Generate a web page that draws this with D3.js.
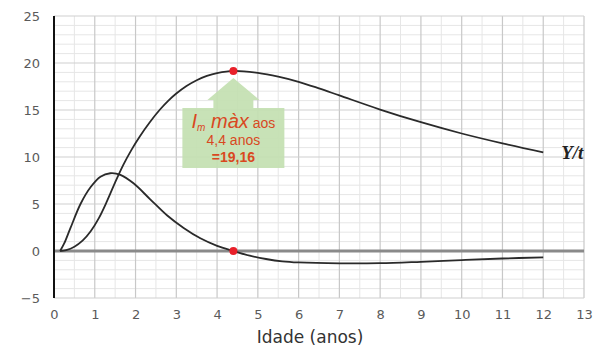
<!DOCTYPE html>
<html>
<head>
<meta charset="utf-8">
<script src="https://cdn.jsdelivr.net/npm/d3@7"></script>
<style>
  html, body { margin: 0; padding: 0; background: #fff; }
  svg { display: block; }
</style>
</head>
<body>
<svg id="chart" width="598" height="349"></svg>
<script>
// Mean annual increment (Y/t) by age
const ageYt = [0.15, 0.3, 0.5, 0.7, 0.9, 1.1, 1.3, 1.5, 1.7, 1.9, 2.1, 2.35, 2.6, 2.8, 3.0, 3.25, 3.5, 3.75, 4.0, 4.4, 5.0, 5.5, 6, 6.5, 7, 8, 9, 10, 11, 12];
const valYt = [0, 0.1, 0.46, 1.1, 2.1, 3.5, 5.3, 7.3, 9.16, 10.76, 12.16, 13.7, 15.05, 15.97, 16.75, 17.55, 18.17, 18.62, 18.92, 19.16, 18.95, 18.55, 18.0, 17.3, 16.55, 15.05, 13.7, 12.5, 11.45, 10.5];

// Rate of change of Y/t by age
const ageRate = [0.15, 0.25, 0.4, 0.65, 0.9, 1.14, 1.38, 1.63, 1.95, 2.36, 2.77, 3.18, 3.59, 4.0, 4.4, 4.8, 5.2, 5.6, 6, 7, 8, 9, 10, 11, 12];
const valRate = [0, 0.8, 2.4, 5.0, 6.8, 7.9, 8.27, 8.1, 7.2, 5.5, 3.8, 2.45, 1.35, 0.55, 0, -0.5, -0.85, -1.1, -1.22, -1.32, -1.3, -1.15, -0.97, -0.8, -0.67];

// Highlighted maximum
const peakAge = 4.4;
const peakValue = 19.16;

const xTicks = [0, 1, 2, 3, 4, 5, 6, 7, 8, 9, 10, 11, 12, 13];
const yTicks = [-5, 0, 5, 10, 15, 20, 25];

const svg = d3.select("#chart");
const x = d3.scaleLinear().domain([0, 13]).range([54, 584]);
const y = d3.scaleLinear().domain([-5, 25]).range([298, 16]);

// minor grid
const minorX = d3.range(0.5, 13, 1);
const minorY = d3.range(-5, 26, 1).filter(v => v % 5 !== 0);
svg.append("g").selectAll("line").data(minorX).join("line")
  .attr("x1", d => x(d)).attr("x2", d => x(d))
  .attr("y1", y(25)).attr("y2", y(-5))
  .attr("stroke", "#e6e6e6").attr("stroke-width", 1);
svg.append("g").selectAll("line").data(minorY).join("line")
  .attr("y1", d => y(d)).attr("y2", d => y(d))
  .attr("x1", x(0)).attr("x2", x(13))
  .attr("stroke", "#e6e6e6").attr("stroke-width", 1);

// major grid
svg.append("g").selectAll("line").data(xTicks.slice(1)).join("line")
  .attr("x1", d => x(d)).attr("x2", d => x(d))
  .attr("y1", y(25)).attr("y2", y(-5))
  .attr("stroke", "#c8c8c8").attr("stroke-width", 1.2);
svg.append("g").selectAll("line").data(yTicks.filter(v => v !== 0)).join("line")
  .attr("y1", d => y(d)).attr("y2", d => y(d))
  .attr("x1", x(0)).attr("x2", x(13))
  .attr("stroke", "#d0d0d0").attr("stroke-width", 1.2);

// zero line
svg.append("line")
  .attr("x1", x(0)).attr("x2", x(13))
  .attr("y1", y(0)).attr("y2", y(0))
  .attr("stroke", "#8a8a8a").attr("stroke-width", 3);

// y axis line
svg.append("line")
  .attr("x1", x(0)).attr("x2", x(0))
  .attr("y1", y(25)).attr("y2", y(-5))
  .attr("stroke", "#111").attr("stroke-width", 2);

// tick labels via d3 axes (domain and tick lines hidden)
const xAxis = svg.append("g")
  .attr("transform", `translate(0,${y(-5) + 8})`)
  .call(d3.axisBottom(x).tickValues(xTicks).tickSize(0).tickPadding(4).tickFormat(d3.format("d")));
const yAxis = svg.append("g")
  .attr("transform", `translate(${x(0) - 14},0)`)
  .call(d3.axisLeft(y).tickValues(yTicks).tickSize(0).tickPadding(0).tickFormat(d3.format("d")));
[xAxis, yAxis].forEach(g => {
  g.select(".domain").remove();
  g.selectAll("text")
    .attr("font-family", "DejaVu Sans, sans-serif")
    .attr("font-size", 13)
    .attr("fill", "#5a5a5a");
});

// axis title
svg.append("text")
  .attr("x", 310).attr("y", 343)
  .attr("text-anchor", "middle")
  .attr("font-family", "DejaVu Sans, sans-serif")
  .attr("font-size", 17)
  .attr("fill", "#333")
  .text("Idade (anos)");

// curves
const line = d3.line().x(d => x(d[0])).y(d => y(d[1])).curve(d3.curveCatmullRom.alpha(0.5));
svg.append("path")
  .datum(ageYt.map((a, i) => [a, valYt[i]]))
  .attr("d", line)
  .attr("fill", "none").attr("stroke", "#2a2a2a").attr("stroke-width", 1.8);
svg.append("path")
  .datum(ageRate.map((a, i) => [a, valRate[i]]))
  .attr("d", line)
  .attr("fill", "none").attr("stroke", "#2a2a2a").attr("stroke-width", 1.8);

// Y/t label
svg.append("text")
  .attr("x", x(12) + 18).attr("y", y(valYt[valYt.length - 1]) + 7)
  .attr("font-family", "Liberation Serif, serif")
  .attr("font-style", "italic").attr("font-weight", "bold")
  .attr("font-size", 19)
  .attr("fill", "#222")
  .text("Y/t");

// up-arrow callout below the maximum
const cx = x(peakAge);
const tipY = y(peakValue) + 7;
const headHalf = 26, shaftHalf = 20, boxHalf = 51;
const headBase = tipY + 22, boxTop = tipY + 30, boxBottom = tipY + 90;
const callout = [
  [cx, tipY], [cx + headHalf, headBase], [cx + shaftHalf, headBase], [cx + shaftHalf, boxTop],
  [cx + boxHalf, boxTop], [cx + boxHalf, boxBottom], [cx - boxHalf, boxBottom], [cx - boxHalf, boxTop],
  [cx - shaftHalf, boxTop], [cx - shaftHalf, headBase], [cx - headHalf, headBase]
];
svg.append("path")
  .attr("d", d3.line()(callout) + "Z")
  .attr("fill", "#c3dfb1").attr("fill-opacity", 0.92);

const red = "#d9481f";
const t1 = svg.append("text")
  .attr("x", cx).attr("y", boxTop + 20)
  .attr("text-anchor", "middle")
  .attr("font-family", "Liberation Sans, sans-serif")
  .attr("fill", red);
t1.append("tspan").attr("font-style", "italic").attr("font-size", 20).text("I");
t1.append("tspan").attr("font-style", "italic").attr("font-size", 10).attr("dy", 3).text("m");
t1.append("tspan").attr("font-style", "italic").attr("font-size", 20).attr("dy", -3).text(" màx");
t1.append("tspan").attr("font-size", 14).text("  aos");

svg.append("text")
  .attr("x", cx).attr("y", boxTop + 37)
  .attr("text-anchor", "middle")
  .attr("font-family", "Liberation Sans, sans-serif")
  .attr("font-size", 14)
  .attr("fill", red)
  .text("4,4 anos");
svg.append("text")
  .attr("x", cx).attr("y", boxTop + 54)
  .attr("text-anchor", "middle")
  .attr("font-family", "Liberation Sans, sans-serif")
  .attr("font-size", 14).attr("font-weight", "bold")
  .attr("fill", red)
  .text("=19,16");

// highlighted points
svg.append("g").selectAll("circle")
  .data([[peakAge, peakValue], [peakAge, 0]]).join("circle")
  .attr("cx", d => x(d[0])).attr("cy", d => y(d[1]))
  .attr("r", 4).attr("fill", "#e8202a");
</script>
</body>
</html>
